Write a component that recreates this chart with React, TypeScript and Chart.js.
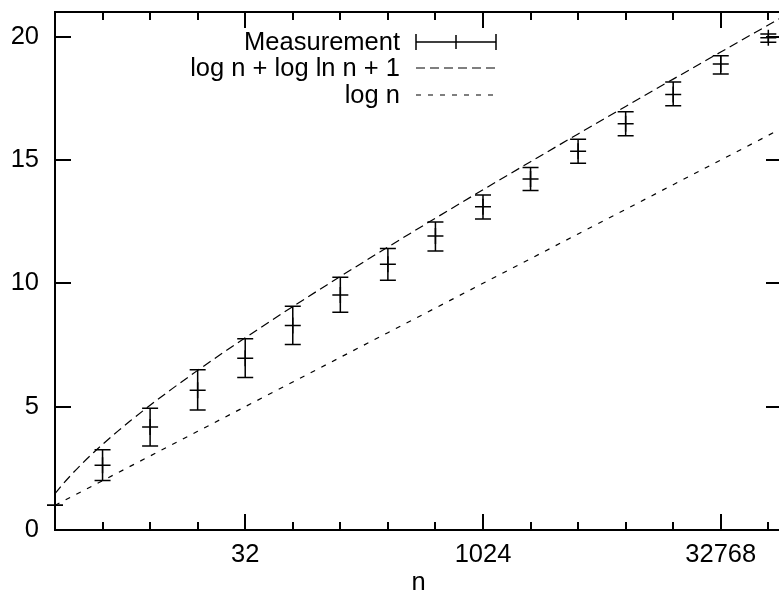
import React, { useEffect, useRef } from "react";
import { Chart, registerables } from "chart.js";

Chart.register(...registerables);

// ---- data ----
const measN = [2, 4, 8, 16, 32, 64, 128, 256, 512, 1024, 2048, 4096, 8192, 16384, 32768, 65536];
const measMean = [1.0, 2.63, 4.18, 5.67, 6.96, 8.29, 9.53, 10.77, 11.92, 13.1, 14.23, 15.35, 16.47, 17.66, 18.89, 19.96];
const measLow = [1.0, 2.01, 3.41, 4.86, 6.18, 7.52, 8.83, 10.12, 11.31, 12.61, 13.76, 14.87, 15.98, 17.2, 18.49, 19.77];
const measHigh = [1.0, 3.25, 4.94, 6.5, 7.75, 9.07, 10.25, 11.41, 12.49, 13.58, 14.7, 15.84, 16.96, 18.16, 19.23, 20.11];

const upperN = [2, 2.25, 2.5, 3, 3.5, 4, 5, 6, 8, 11, 16, 23, 32, 64, 128, 256, 512, 1024, 2048, 4096, 8192, 16384, 32768, 65536, 80000];
const upperY = [1.471, 1.868, 2.196, 2.721, 3.133, 3.471, 4.009, 4.426, 5.056, 5.721, 6.471, 7.172, 7.793, 9.056, 10.279, 11.471, 12.641, 13.793, 14.931, 16.056, 17.172, 18.279, 19.378, 20.471, 20.785];

const lowerN = [2, 4, 8, 16, 32, 64, 128, 256, 512, 1024, 2048, 4096, 8192, 16384, 32768, 65536, 80000];
const lowerY = [1, 2, 3, 4, 5, 6, 7, 8, 9, 10, 11, 12, 13, 14, 15, 16, 16.288];

const xMajorTicks = [32, 1024, 32768];
const xMinorTicks = [2, 4, 8, 16, 64, 128, 256, 512, 2048, 4096, 8192, 16384, 65536];
const yMajorTicks = [0, 5, 10, 15, 20];

const seriesLabels = ["Measurement", "log n + log ln n + 1", "log n"];
const xTitle = "n";

const FONT = '"Liberation Sans", Arial, Helvetica, sans-serif';
const FSIZE = 25.5;

const gnuplotPlugin = {
  id: "gnuplotLook",
  afterDatasetsDraw(chart: any) {
    const ctx = chart.ctx;
    const xs = chart.scales.x;
    const ys = chart.scales.y;
    ctx.save();
    ctx.strokeStyle = "#000";
    ctx.lineWidth = 1.5;
    ctx.setLineDash([]);
    measN.forEach((n, i) => {
      const px = xs.getPixelForValue(n);
      const pl = ys.getPixelForValue(measLow[i]);
      const ph = ys.getPixelForValue(measHigh[i]);
      ctx.beginPath();
      ctx.moveTo(px, pl);
      ctx.lineTo(px, ph);
      ctx.moveTo(px - 8, pl);
      ctx.lineTo(px + 8, pl);
      ctx.moveTo(px - 8, ph);
      ctx.lineTo(px + 8, ph);
      ctx.stroke();
    });
    ctx.restore();
  },
  afterDraw(chart: any) {
    const ctx = chart.ctx;
    const a = chart.chartArea;
    const xs = chart.scales.x;
    const ys = chart.scales.y;
    ctx.save();
    ctx.strokeStyle = "#000";
    ctx.setLineDash([]);
    ctx.lineWidth = 2;
    ctx.strokeRect(a.left, a.top, a.right - a.left, a.bottom - a.top);
    ctx.beginPath();
    xMajorTicks.forEach((v) => {
      const px = Math.round(xs.getPixelForValue(v));
      ctx.moveTo(px, a.bottom);
      ctx.lineTo(px, a.bottom - 16);
      ctx.moveTo(px, a.top);
      ctx.lineTo(px, a.top + 16);
    });
    xMinorTicks.forEach((v) => {
      const px = Math.round(xs.getPixelForValue(v));
      ctx.moveTo(px, a.bottom);
      ctx.lineTo(px, a.bottom - 8);
      ctx.moveTo(px, a.top);
      ctx.lineTo(px, a.top + 8);
    });
    yMajorTicks.forEach((v) => {
      const py = Math.round(ys.getPixelForValue(v));
      ctx.moveTo(a.left, py);
      ctx.lineTo(a.left + 16, py);
      ctx.moveTo(a.right, py);
      ctx.lineTo(a.right - 16, py);
    });
    ctx.stroke();

    // axis title
    ctx.fillStyle = "#000";
    ctx.font = `${FSIZE}px ${FONT}`;
    ctx.textAlign = "center";
    ctx.textBaseline = "alphabetic";
    ctx.fillText(xTitle, (a.left + a.right) / 2, 590);

    // legend
    const textRight = 400;
    const sx0 = 416;
    const sx1 = 496;
    const rows = [42, 68, 95];
    ctx.textAlign = "right";
    ctx.textBaseline = "middle";
    seriesLabels.forEach((lab, i) => {
      ctx.fillText(lab, textRight, rows[i] + 1);
    });
    // measurement sample
    ctx.lineWidth = 1.5;
    ctx.beginPath();
    ctx.moveTo(sx0, rows[0]);
    ctx.lineTo(sx1, rows[0]);
    ctx.moveTo(sx0, rows[0] - 8);
    ctx.lineTo(sx0, rows[0] + 8);
    ctx.moveTo(sx1, rows[0] - 8);
    ctx.lineTo(sx1, rows[0] + 8);
    const cx = (sx0 + sx1) / 2;
    ctx.moveTo(cx, rows[0] - 7);
    ctx.lineTo(cx, rows[0] + 7);
    ctx.stroke();
    ctx.lineWidth = 1.2;
    ctx.setLineDash([9, 5]);
    ctx.beginPath();
    ctx.moveTo(sx0, rows[1]);
    ctx.lineTo(sx1, rows[1]);
    ctx.stroke();
    ctx.setLineDash([5, 7]);
    ctx.beginPath();
    ctx.moveTo(sx0, rows[2]);
    ctx.lineTo(sx1, rows[2]);
    ctx.stroke();
    ctx.restore();
  },
};

export default function App() {
  const ref = useRef<HTMLCanvasElement | null>(null);
  useEffect(() => {
    if (!ref.current) return;
    const chart = new Chart(ref.current, {
      type: "scatter",
      data: {
        datasets: [
          {
            label: seriesLabels[0],
            data: measN.map((n, i) => ({ x: n, y: measMean[i] })),
            pointStyle: "cross",
            pointRadius: 8,
            pointBorderWidth: 1.5,
            borderColor: "#000",
            backgroundColor: "#000",
            showLine: false,
            clip: false,
          } as any,
          {
            label: seriesLabels[1],
            data: upperN.map((n, i) => ({ x: n, y: upperY[i] })),
            showLine: true,
            borderColor: "#000",
            borderWidth: 1.2,
            borderDash: [9, 5],
            pointRadius: 0,
            cubicInterpolationMode: "monotone",
          } as any,
          {
            label: seriesLabels[2],
            data: lowerN.map((n, i) => ({ x: n, y: lowerY[i] })),
            showLine: true,
            borderColor: "#000",
            borderWidth: 1.2,
            borderDash: [5, 7],
            pointRadius: 0,
          } as any,
        ],
      },
      options: {
        animation: false,
        responsive: false,
        events: [],
        layout: { padding: { left: 0, top: 12, right: 18, bottom: 0 } },
        plugins: { legend: { display: false }, tooltip: { enabled: false } },
        scales: {
          x: {
            type: "logarithmic",
            min: 2,
            max: 80000,
            grid: { display: false, drawTicks: false },
            border: { display: false },
            afterBuildTicks: (s: any) => {
              s.ticks = xMajorTicks.map((v) => ({ value: v }));
            },
            afterFit: (s: any) => {
              s.height = 62;
              s.paddingLeft = 0;
              s.paddingRight = 0;
            },
            ticks: {
              color: "#000",
              font: { family: FONT, size: FSIZE },
              padding: 10,
              maxRotation: 0,
              autoSkip: false,
              callback: (v: any) => String(v),
            },
          },
          y: {
            type: "linear",
            min: 0,
            max: 21,
            grid: { display: false, drawTicks: false },
            border: { display: false },
            afterBuildTicks: (s: any) => {
              s.ticks = yMajorTicks.map((v) => ({ value: v }));
            },
            afterFit: (s: any) => {
              s.width = 55;
              s.paddingTop = 0;
              s.paddingBottom = 0;
            },
            ticks: {
              color: "#000",
              font: { family: FONT, size: FSIZE },
              padding: 16,
              callback: (v: any) => String(v),
            },
          },
        },
      } as any,
      plugins: [gnuplotPlugin],
    });
    return () => chart.destroy();
  }, []);
  return (
    <div
      style={{
        position: "fixed",
        left: 0,
        top: 0,
        width: 779,
        height: 592,
        overflow: "hidden",
        background: "#fff",
      }}
    >
      <canvas ref={ref} width={800} height={592} style={{ display: "block" }} />
    </div>
  );
}
